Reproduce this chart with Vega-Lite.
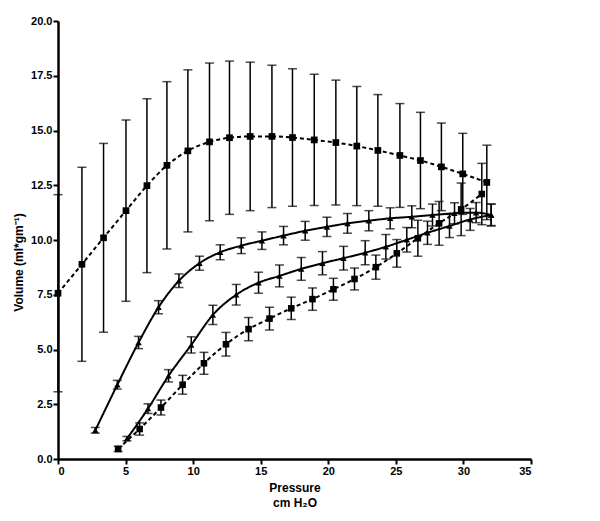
{
  "$schema": "https://vega.github.io/schema/vega-lite/v6.json",
  "width": 473,
  "height": 438,
  "autosize": "none",
  "padding": {"left": 58, "top": 21, "right": 69, "bottom": 62},
  "background": "white",
  "config": {
    "view": {"stroke": null},
    "axis": {
      "grid": false,
      "domainColor": "black",
      "domainWidth": 2.5,
      "tickColor": "black",
      "tickWidth": 2,
      "tickSize": 5,
      "labelFont": "Liberation Sans",
      "labelFontWeight": "bold",
      "labelFontSize": 11,
      "labelColor": "black",
      "labelPadding": 1,
      "titleFont": "Liberation Sans",
      "titleFontWeight": "bold",
      "titleFontSize": 12,
      "titleColor": "black"
    }
  },
  "data": {
    "values": [
      {"s": "A", "p": 0, "v": 7.57, "lo": 3.07, "hi": 12.07},
      {"s": "A", "p": 1.77, "v": 8.89, "lo": 4.46, "hi": 13.32},
      {"s": "A", "p": 3.37, "v": 10.1, "lo": 5.79, "hi": 14.41},
      {"s": "A", "p": 5.03, "v": 11.34, "lo": 7.2, "hi": 15.48},
      {"s": "A", "p": 6.58, "v": 12.48, "lo": 8.51, "hi": 16.45},
      {"s": "A", "p": 8.06, "v": 13.41, "lo": 9.59, "hi": 17.23},
      {"s": "A", "p": 9.61, "v": 14.07, "lo": 10.37, "hi": 17.77},
      {"s": "A", "p": 11.21, "v": 14.48, "lo": 10.88, "hi": 18.08},
      {"s": "A", "p": 12.69, "v": 14.67, "lo": 11.17, "hi": 18.17},
      {"s": "A", "p": 14.22, "v": 14.73, "lo": 11.34, "hi": 18.12},
      {"s": "A", "p": 15.83, "v": 14.73, "lo": 11.48, "hi": 17.98},
      {"s": "A", "p": 17.35, "v": 14.68, "lo": 11.54, "hi": 17.82},
      {"s": "A", "p": 18.96, "v": 14.57, "lo": 11.57, "hi": 17.57},
      {"s": "A", "p": 20.56, "v": 14.45, "lo": 11.6, "hi": 17.3},
      {"s": "A", "p": 22.11, "v": 14.29, "lo": 11.57, "hi": 17.01},
      {"s": "A", "p": 23.67, "v": 14.09, "lo": 11.54, "hi": 16.64},
      {"s": "A", "p": 25.3, "v": 13.86, "lo": 11.49, "hi": 16.23},
      {"s": "A", "p": 26.82, "v": 13.63, "lo": 11.43, "hi": 15.83},
      {"s": "A", "p": 28.37, "v": 13.34, "lo": 11.34, "hi": 15.34},
      {"s": "A", "p": 29.95, "v": 13.02, "lo": 11.17, "hi": 14.87},
      {"s": "A", "p": 31.73, "v": 12.63, "lo": 10.93, "hi": 14.33},
      {"s": "B", "p": 4.45, "v": 0.46, "lo": 0.34, "hi": 0.58},
      {"s": "B", "p": 6.04, "v": 1.37, "lo": 1.09, "hi": 1.65},
      {"s": "B", "p": 7.62, "v": 2.35, "lo": 2.01, "hi": 2.69},
      {"s": "B", "p": 9.22, "v": 3.39, "lo": 2.96, "hi": 3.82},
      {"s": "B", "p": 10.8, "v": 4.37, "lo": 3.87, "hi": 4.87},
      {"s": "B", "p": 12.43, "v": 5.24, "lo": 4.7, "hi": 5.78},
      {"s": "B", "p": 14.1, "v": 5.93, "lo": 5.4, "hi": 6.46},
      {"s": "B", "p": 15.65, "v": 6.41, "lo": 5.89, "hi": 6.93},
      {"s": "B", "p": 17.26, "v": 6.88, "lo": 6.37, "hi": 7.39},
      {"s": "B", "p": 18.83, "v": 7.3, "lo": 6.79, "hi": 7.81},
      {"s": "B", "p": 20.38, "v": 7.75, "lo": 7.25, "hi": 8.25},
      {"s": "B", "p": 21.94, "v": 8.22, "lo": 7.72, "hi": 8.72},
      {"s": "B", "p": 23.52, "v": 8.76, "lo": 8.21, "hi": 9.31},
      {"s": "B", "p": 25.07, "v": 9.39, "lo": 8.76, "hi": 10.02},
      {"s": "B", "p": 26.63, "v": 10.08, "lo": 9.26, "hi": 10.9},
      {"s": "B", "p": 28.2, "v": 10.76, "lo": 9.76, "hi": 11.76},
      {"s": "B", "p": 29.83, "v": 11.4, "lo": 10.2, "hi": 12.6},
      {"s": "B", "p": 31.36, "v": 12.1, "lo": 10.7, "hi": 13.5},
      {"s": "C", "p": 2.76, "v": 1.31, "lo": 1.18, "hi": 1.44},
      {"s": "C", "p": 4.39, "v": 3.39, "lo": 3.19, "hi": 3.59},
      {"s": "C", "p": 5.96, "v": 5.32, "lo": 5.04, "hi": 5.6},
      {"s": "C", "p": 7.44, "v": 6.93, "lo": 6.63, "hi": 7.23},
      {"s": "C", "p": 8.95, "v": 8.14, "lo": 7.83, "hi": 8.45},
      {"s": "C", "p": 10.47, "v": 8.94, "lo": 8.62, "hi": 9.26},
      {"s": "C", "p": 12.0, "v": 9.44, "lo": 9.1, "hi": 9.78},
      {"s": "C", "p": 13.56, "v": 9.74, "lo": 9.38, "hi": 10.1},
      {"s": "C", "p": 15.09, "v": 9.97, "lo": 9.57, "hi": 10.37},
      {"s": "C", "p": 16.69, "v": 10.2, "lo": 9.78, "hi": 10.62},
      {"s": "C", "p": 18.29, "v": 10.42, "lo": 9.99, "hi": 10.85},
      {"s": "C", "p": 19.9, "v": 10.6, "lo": 10.16, "hi": 11.04},
      {"s": "C", "p": 21.42, "v": 10.76, "lo": 10.31, "hi": 11.21},
      {"s": "C", "p": 23.0, "v": 10.88, "lo": 10.42, "hi": 11.34},
      {"s": "C", "p": 24.58, "v": 10.99, "lo": 10.51, "hi": 11.47},
      {"s": "C", "p": 26.18, "v": 11.06, "lo": 10.56, "hi": 11.56},
      {"s": "C", "p": 27.71, "v": 11.14, "lo": 10.64, "hi": 11.64},
      {"s": "C", "p": 29.34, "v": 11.22, "lo": 10.74, "hi": 11.7},
      {"s": "C", "p": 30.94, "v": 11.25, "lo": 10.79, "hi": 11.71},
      {"s": "C", "p": 32.05, "v": 11.14, "lo": 10.66, "hi": 11.64},
      {"s": "D", "p": 5.1, "v": 0.93, "lo": 0.83, "hi": 1.03},
      {"s": "D", "p": 6.66, "v": 2.3, "lo": 2.08, "hi": 2.52},
      {"s": "D", "p": 8.18, "v": 3.8, "lo": 3.52, "hi": 4.08},
      {"s": "D", "p": 9.86, "v": 5.21, "lo": 4.84, "hi": 5.58},
      {"s": "D", "p": 11.46, "v": 6.58, "lo": 6.14, "hi": 7.02},
      {"s": "D", "p": 13.19, "v": 7.5, "lo": 7.03, "hi": 7.97},
      {"s": "D", "p": 14.84, "v": 8.05, "lo": 7.57, "hi": 8.53},
      {"s": "D", "p": 16.39, "v": 8.36, "lo": 7.86, "hi": 8.86},
      {"s": "D", "p": 18.0, "v": 8.68, "lo": 8.16, "hi": 9.2},
      {"s": "D", "p": 19.57, "v": 8.94, "lo": 8.41, "hi": 9.47},
      {"s": "D", "p": 21.13, "v": 9.17, "lo": 8.63, "hi": 9.71},
      {"s": "D", "p": 22.73, "v": 9.42, "lo": 8.87, "hi": 9.97},
      {"s": "D", "p": 24.26, "v": 9.69, "lo": 9.13, "hi": 10.25},
      {"s": "D", "p": 25.81, "v": 10.01, "lo": 9.45, "hi": 10.57},
      {"s": "D", "p": 27.34, "v": 10.33, "lo": 9.8, "hi": 10.86},
      {"s": "D", "p": 28.97, "v": 10.64, "lo": 10.11, "hi": 11.17},
      {"s": "D", "p": 30.5, "v": 10.94, "lo": 10.44, "hi": 11.44},
      {"s": "D", "p": 32.05, "v": 11.14, "lo": 10.64, "hi": 11.64}
    ]
  },
  "encoding": {
    "x": {
      "field": "p",
      "type": "quantitative",
      "scale": {"domain": [0, 35], "nice": false},
      "axis": {
        "values": [0, 5, 10, 15, 20, 25, 30, 35],
        "title": ["Pressure", "cm H₂O"],
        "titlePadding": 6,
        "titleLineHeight": 15
      }
    }
  },
  "layer": [
    {
      "mark": {"type": "line", "interpolate": "monotone", "color": "black", "strokeWidth": 2},
      "encoding": {
        "y": {
          "field": "v",
          "type": "quantitative",
          "scale": {"domain": [0, 20], "nice": false},
          "axis": {
            "values": [0, 2.5, 5, 7.5, 10, 12.5, 15, 17.5, 20],
            "format": ".1f",
            "title": "Volume (ml*gm⁻¹)",
            "titlePadding": 5,
            "titleY": 241
          }
        },
        "detail": {"field": "s"},
        "strokeDash": {
          "field": "s",
          "type": "nominal",
          "scale": {"domain": ["A", "B", "C", "D"], "range": [[4, 3], [4, 3], [1, 0], [1, 0]]},
          "legend": null
        }
      }
    },
    {
      "mark": {"type": "rule", "color": "black", "strokeWidth": 1.5},
      "encoding": {
        "y": {"field": "lo", "type": "quantitative"},
        "y2": {"field": "hi"}
      }
    },
    {
      "mark": {"type": "tick", "orient": "horizontal", "color": "black", "size": 9, "thickness": 1.5},
      "encoding": {"y": {"field": "hi", "type": "quantitative"}}
    },
    {
      "mark": {"type": "tick", "orient": "horizontal", "color": "black", "size": 9, "thickness": 1.5},
      "encoding": {"y": {"field": "lo", "type": "quantitative"}}
    },
    {
      "mark": {"type": "point", "filled": true, "color": "black", "opacity": 1},
      "encoding": {
        "y": {"field": "v", "type": "quantitative"},
        "shape": {
          "field": "s",
          "type": "nominal",
          "scale": {"domain": ["A", "B", "C", "D"], "range": ["square", "square", "triangle-up", "triangle-up"]},
          "legend": null
        },
        "size": {
          "field": "s",
          "type": "nominal",
          "scale": {"domain": ["A", "B", "C", "D"], "range": [45, 40, 30, 25]},
          "legend": null
        }
      }
    }
  ]
}
